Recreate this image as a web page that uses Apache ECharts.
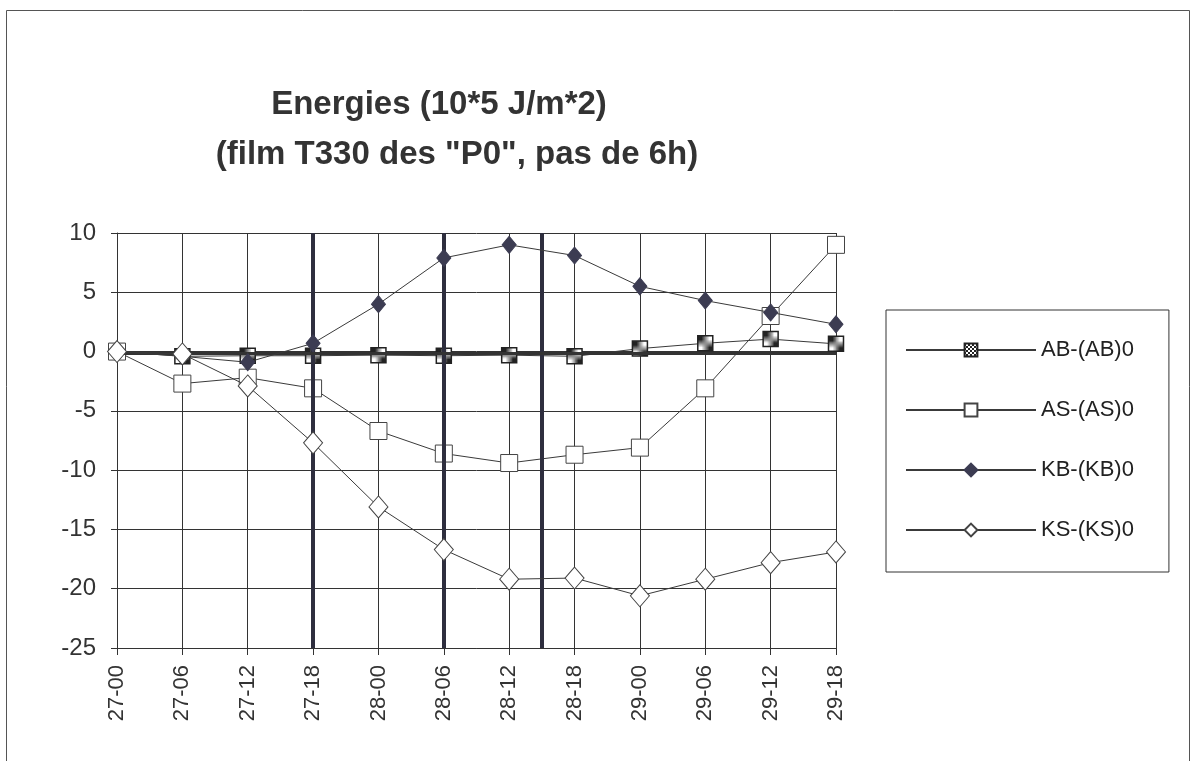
<!DOCTYPE html>
<html>
<head>
<meta charset="utf-8">
<script src="https://cdn.jsdelivr.net/npm/echarts@6/dist/echarts.min.js"></script>
<style>
html,body{margin:0;padding:0;background:#fff;}
#chart{width:1196px;height:761px;}
</style>
</head>
<body>
<div id="chart"></div>
<script>
var categories = ['27-00','27-06','27-12','27-18','28-00','28-06','28-12','28-18','29-00','29-06','29-12','29-18'];
var yTicks = [-25, -20, -15, -10, -5, 0, 5, 10];
var abValues = [0, -0.4, -0.35, -0.35, -0.3, -0.35, -0.3, -0.4, 0.25, 0.7, 1.05, 0.65];
var asValues = [0, -2.7, -2.2, -3.1, -6.7, -8.6, -9.4, -8.7, -8.1, -3.1, 3.0, 9.0];
var kbValues = [0, -0.4, -0.9, 0.7, 4.0, 7.9, 9.0, 8.1, 5.5, 4.3, 3.3, 2.3];
var ksValues = [0, -0.2, -2.9, -7.7, -13.1, -16.7, -19.2, -19.1, -20.6, -19.2, -17.8, -16.9];
var markerX = [3, 5, 6.5];
var baseLineY = -0.15;
var seriesNames = ['AB-(AB)0', 'AS-(AS)0', 'KB-(KB)0', 'KS-(KS)0'];

function pairs(vals){ return vals.map(function(v,i){ return [i, v]; }); }

// checkered pattern for AB markers
var pc = document.createElement('canvas');
pc.width = 4; pc.height = 4;
var pctx = pc.getContext('2d');
pctx.fillStyle = '#fff'; pctx.fillRect(0,0,4,4);
pctx.fillStyle = '#222';
pctx.fillRect(0,0,2,2); pctx.fillRect(2,2,2,2);

var chart = echarts.init(document.getElementById('chart'), null, {renderer:'canvas'});
var font = 'Liberation Sans, Arial, sans-serif';
var lineCol = '#3a3a3a';

var option = {
  backgroundColor: '#fff',
  animation: false,
  graphic: [{
    type: 'rect', z: -10,
    shape: {x: 6.5, y: 10.5, width: 1183, height: 770},
    style: {fill: 'none', stroke: '#555', lineWidth: 1}
  }],
  title: [{
    text: 'Energies (10*5 J/m*2)',
    left: 434, top: 83, textAlign: 'center',
    textStyle: {fontFamily: font, fontSize: 33, fontWeight: 'bold', color: '#333'}
  },{
    text: '(film T330 des "P0", pas de 6h)',
    left: 452, top: 133, textAlign: 'center',
    textStyle: {fontFamily: font, fontSize: 33, fontWeight: 'bold', color: '#333'}
  }],
  legend: {
    orient: 'vertical',
    left: 886, top: 310,
    padding: [29, 35, 31, 19],
    itemGap: 38,
    itemWidth: 130,
    itemHeight: 16,
    borderColor: '#333', borderWidth: 1,
    data: seriesNames,
    textStyle: {fontFamily: font, fontSize: 22, color: '#222'}
  },
  grid: {left: 117, right: 360, top: 233, bottom: 113},
  xAxis: {
    type: 'value', min: 0, max: 11, interval: 1,
    axisLine: {show: true, onZero: false, lineStyle: {color: '#333', width: 1}},
    axisTick: {show: true, length: 7, lineStyle: {color: '#333'}},
    splitLine: {show: true, lineStyle: {color: '#333', width: 1}},
    axisLabel: {
      rotate: 90, margin: 17,
      fontFamily: font, fontSize: 22, color: '#333',
      formatter: function(v){ return categories[v] || ''; }
    }
  },
  yAxis: {
    type: 'value', min: yTicks[0], max: yTicks[yTicks.length-1], interval: 5,
    axisLine: {show: true, lineStyle: {color: '#333', width: 1}},
    axisTick: {show: true, length: 6, lineStyle: {color: '#333'}},
    splitLine: {show: true, lineStyle: {color: '#333', width: 1}},
    axisLabel: {margin: 21, fontFamily: font, fontSize: 24, color: '#333'}
  },
  series: [{
    name: seriesNames[0], type: 'line', z: 3,
    data: pairs(abValues),
    symbol: 'rect', symbolSize: 15,
    lineStyle: {color: lineCol, width: 1},
    itemStyle: {color: {image: pc, repeat: 'repeat'}, borderColor: '#222', borderWidth: 1.5},
    markLine: {
      silent: true, symbol: 'none', label: {show: false},
      data: markerX.map(function(x){ return {xAxis: x, lineStyle: {color: '#2e2e3e', width: 4, type: 'solid'}}; })
        .concat([{yAxis: baseLineY, lineStyle: {color: '#333', width: 3, type: 'solid'}}])
    }
  },{
    name: seriesNames[1], type: 'line', z: 4,
    data: pairs(asValues),
    symbol: 'rect', symbolSize: 17,
    lineStyle: {color: lineCol, width: 1},
    itemStyle: {color: '#fff', borderColor: '#444', borderWidth: 1}
  },{
    name: seriesNames[2], type: 'line', z: 5,
    data: pairs(kbValues),
    symbol: 'diamond', symbolSize: [14, 17],
    lineStyle: {color: lineCol, width: 1},
    itemStyle: {color: '#3c3c52', borderColor: '#3c3c52', borderWidth: 1}
  },{
    name: seriesNames[3], type: 'line', z: 6,
    data: pairs(ksValues),
    symbol: 'diamond', symbolSize: [19, 22],
    lineStyle: {color: lineCol, width: 1},
    itemStyle: {color: '#fff', borderColor: '#444', borderWidth: 1}
  }]
};
chart.setOption(option);
</script>
</body>
</html>
